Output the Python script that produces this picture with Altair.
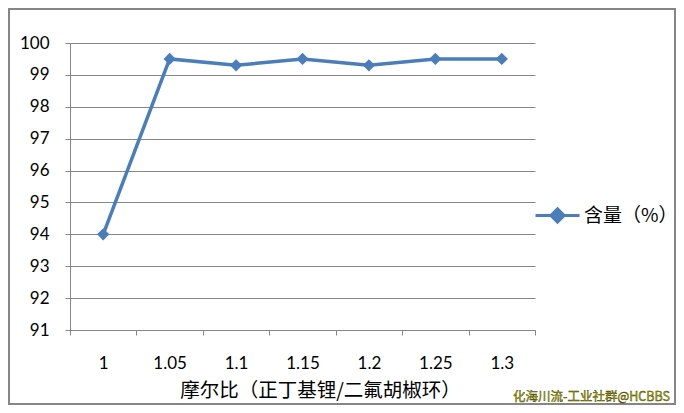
import altair as alt
import pandas as pd

categories = ["1", "1.05", "1.1", "1.15", "1.2", "1.25", "1.3"]
values = [94, 99.5, 99.3, 99.5, 99.3, 99.5, 99.5]
series_name = "含量（%）"
y_ticks = [91, 92, 93, 94, 95, 96, 97, 98, 99, 100]
x_title = "摩尔比（正丁基锂/二氟胡椒环）"
watermark = "化海川流-工业社群@HCBBS"

df = pd.DataFrame({"ratio": categories, "val": values, "series": [series_name] * len(categories)})

BLUE = "#4A7EBB"
GRAY = "#868686"
NUM_FONT = "Lato"
CJK_FONT = "Noto Sans CJK SC"

x_enc = alt.X(
    "ratio:N",
    sort=categories,
    scale=alt.Scale(type="band", paddingInner=0, paddingOuter=0),
    axis=alt.Axis(
        title=x_title,
        labelAngle=0,
        tickBand="extent",
        grid=False,
        domainColor=GRAY,
        tickColor=GRAY,
        tickSize=5,
        labelPadding=20,
        labelFont=NUM_FONT,
        labelFontSize=17,
        labelColor="#000000",
        titleFont=CJK_FONT,
        titleFontSize=19.5,
        titleFontWeight="normal",
        titleColor="#000000",
        titleX=250,
        titleY=60,
        titleBaseline="middle",
        titleAlign="center",
    ),
)
y_enc = alt.Y(
    "val:Q",
    scale=alt.Scale(domain=[91, 100], nice=False, zero=False),
    axis=alt.Axis(
        title=None,
        values=y_ticks,
        grid=True,
        gridColor=GRAY,
        domainColor=GRAY,
        tickColor=GRAY,
        tickSize=5,
        labelPadding=16,
        labelFont=NUM_FONT,
        labelFontSize=17,
        labelColor="#000000",
    ),
)

color_enc = alt.Color(
    "series:N",
    scale=alt.Scale(range=[BLUE]),
    legend=alt.Legend(
        title=None,
        orient="none",
        legendX=464,
        legendY=149,
        symbolType="M-1,0L1,0M0,-0.3L0.3,0L0,0.3L-0.3,0Z",
        symbolSize=1936,
        symbolStrokeWidth=3,
        symbolFillColor=BLUE,
        symbolStrokeColor=BLUE,
        labelFont=CJK_FONT,
        labelFontSize=19,
        labelColor="#000000",
        labelOffset=3,
        labelLimit=300,
        padding=0,
    ),
)

line = alt.Chart(df).mark_line(strokeWidth=3.5, color=BLUE).encode(x=x_enc, y=y_enc, color=color_enc)
points = alt.Chart(df).mark_point(shape="diamond", size=150, filled=True, opacity=1, color=BLUE).encode(
    x=x_enc, y=y_enc
)

border = alt.Chart(df).mark_rect(fill=None, stroke=GRAY, strokeWidth=2).encode(
    x=alt.value(-61), x2=alt.value(605), y=alt.value(-34), y2=alt.value(361)
)

wm = alt.Chart(pd.DataFrame({"t": [watermark]})).mark_text(
    align="right", baseline="middle", font=CJK_FONT, fontSize=12.5, fontWeight="normal",
    fill="#B0B000", stroke="#3F3F00", strokeWidth=0.4
).encode(text="t:N", x=alt.value(600), y=alt.value(354))

chart = (
    alt.layer(border, line, points, wm)
    .properties(
        width=465,
        height=287,
        padding={"left": 62, "top": 35, "right": 141, "bottom": 75},
        autosize=alt.AutoSizeParams(type="none"),
        background="white",
    )
    .configure_view(stroke=None)
)

chart.save("out.html", embed_options={"renderer": "svg", "actions": False})
